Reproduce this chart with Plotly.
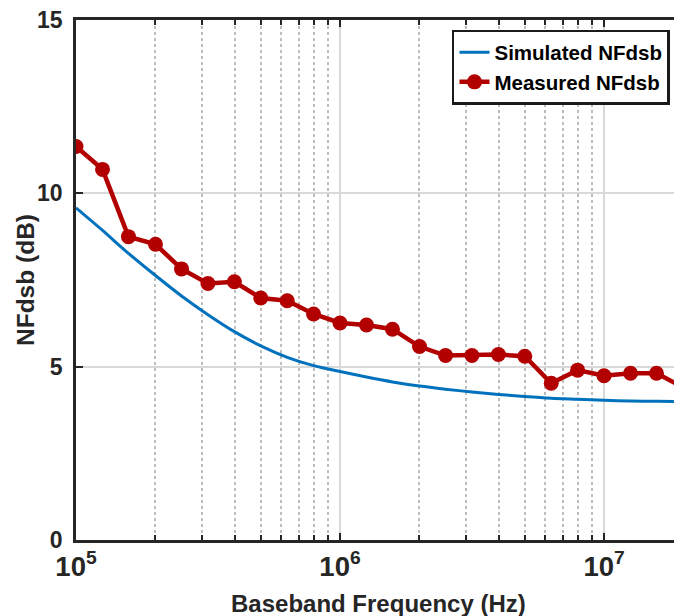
import plotly.graph_objects as go

# Data
freq_meas = [1e5, 1.26e5, 1.58e5, 2e5, 2.51e5, 3.16e5, 3.98e5, 5.01e5, 6.31e5, 7.94e5,
             1e6, 1.26e6, 1.58e6, 2e6, 2.51e6, 3.16e6, 3.98e6, 5.01e6, 6.31e6, 7.94e6,
             1e7, 1.26e7, 1.58e7, 2e7]
nf_meas = [11.35, 10.69, 8.75, 8.53, 7.82, 7.40, 7.45, 6.98, 6.90, 6.52,
           6.26, 6.20, 6.08, 5.58, 5.32, 5.32, 5.35, 5.30, 4.52, 4.90,
           4.74, 4.81, 4.81, 4.40]

freq_sim = [1e5, 1.26e5, 1.58e5, 2e5, 2.51e5, 3.16e5, 3.98e5, 5.01e5, 6.31e5, 7.94e5,
            1e6, 1.26e6, 1.58e6, 2e6, 2.51e6, 3.16e6, 3.98e6, 5.01e6, 6.31e6, 7.94e6,
            1e7, 1.26e7, 1.58e7, 2e7]
nf_sim = [9.58, 8.93, 8.27, 7.63, 7.04, 6.50, 6.01, 5.60, 5.27, 5.03,
          4.86, 4.70, 4.56, 4.44, 4.35, 4.27, 4.20, 4.14, 4.09, 4.06,
          4.03, 4.01, 4.00, 3.99]

y_ticks = [0, 5, 10, 15]

FONT = "Liberation Sans, Arial, Helvetica, sans-serif"
TXT = "#262626"

fig = go.Figure()
fig.add_trace(go.Scatter(
    x=freq_sim, y=nf_sim, mode="lines", name="<b>Simulated NFdsb</b>",
    line=dict(color="#0072BD", width=3, shape="spline", smoothing=0.8),
))
fig.add_trace(go.Scatter(
    x=freq_meas, y=nf_meas, mode="lines+markers", name="<b>Measured NFdsb</b>",
    line=dict(color="#B20000", width=4.5),
    marker=dict(color="#B20000", size=15),
))

fig.update_layout(
    width=674, height=616,
    margin=dict(l=76, r=0, t=20, b=76),
    paper_bgcolor="white", plot_bgcolor="white",
    font=dict(family=FONT, color=TXT, size=19),
    showlegend=True,
    legend=dict(
        x=0.9933, y=0.981, xanchor="right", yanchor="top",
        bgcolor="white", bordercolor="#1a1a1a", borderwidth=2.5,
        font=dict(family=FONT, size=20.5, color="black"),
        tracegroupgap=0, itemwidth=30,
    ),
    annotations=[
        dict(text="<b>Baseband Frequency (Hz)</b>", xref="paper", yref="paper",
             x=(378 - 76) / 598, y=(540 - 603) / 520, xanchor="center", yanchor="middle",
             showarrow=False, font=dict(family=FONT, size=24, color=TXT)),
        dict(text="<b>NFdsb (dB)</b>", xref="paper", yref="paper",
             x=(25 - 76) / 598, y=(540 - 280) / 520, xanchor="center", yanchor="middle",
             textangle=-90, showarrow=False, font=dict(family=FONT, size=24.5, color=TXT)),
    ],
)

fig.update_xaxes(
    type="log", range=[5, 7.265],
    dtick=1, exponentformat="power",
    showline=True, linecolor="#262626", linewidth=2.5, mirror="ticks",
    ticks="inside", ticklen=7, tickwidth=2, tickcolor="#262626",
    showgrid=True, gridcolor="#d9d9d9", gridwidth=1.5,
    minor=dict(ticks="inside", ticklen=5, tickwidth=2, tickcolor="#262626",
               showgrid=True, gridcolor="#bdbdbd", griddash="dot", gridwidth=1.5,
               dtick="D1"),
    tickfont=dict(family=FONT, size=22, color=TXT, weight="bold"),
    ticklabelstandoff=1,
    zeroline=False,
)
fig.update_yaxes(
    range=[0, 15], tickvals=y_ticks,
    showline=True, linecolor="#262626", linewidth=2.5, mirror=False,
    ticks="inside", ticklen=7, tickwidth=2, tickcolor="#262626",
    showgrid=True, gridcolor="#d9d9d9", gridwidth=1.5,
    tickfont=dict(family=FONT, size=23, color=TXT, weight="bold"),
    ticklabelstandoff=6,
    zeroline=False,
)

fig.write_html("out.html")
